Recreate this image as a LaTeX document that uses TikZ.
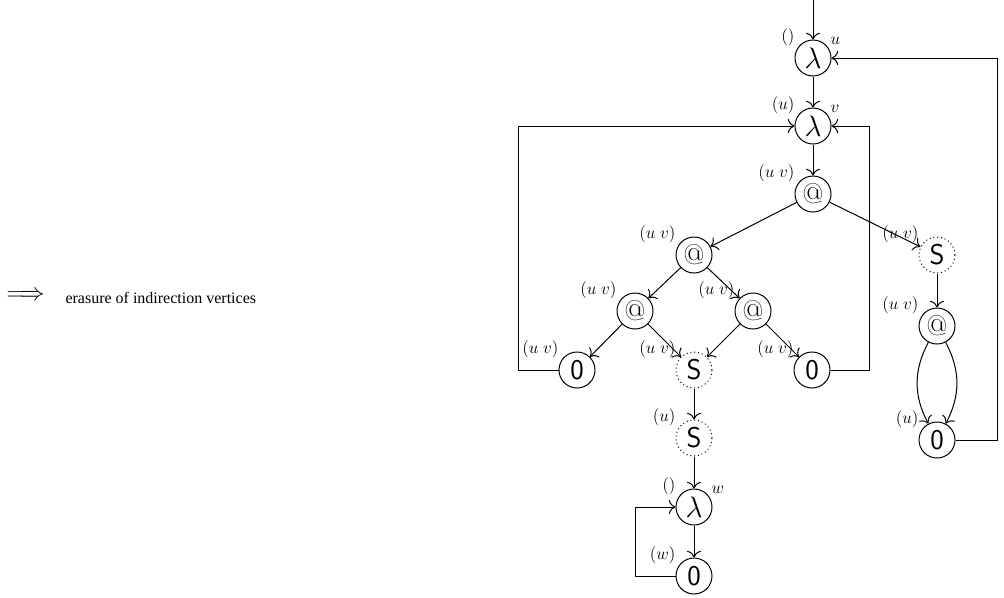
\documentclass[tikz,border=0pt]{standalone}
\usetikzlibrary{arrows.meta}
\usepackage{fontspec}
\newfontfamily\timesfont{Liberation Serif}
\begin{document}
\begin{tikzpicture}[x=0.7pt,y=-0.7pt,
  every path/.style={line width=0.7pt},
  vtx/.style={circle,draw,line width=0.7pt,minimum size=25.2pt,inner sep=0pt,font=\sffamily\fontsize{20}{22}\selectfont},
  ind/.style={vtx,dotted},
  lbl/.style={font=\fontsize{12.5}{14}\selectfont,inner sep=1.4pt,draw=none,solid},
  lL/.style={label={[lbl,anchor=south east]150:$#1$}},
  lR/.style={label={[lbl,anchor=south west]35:$#1$}},
  >={To[scale=1.5]}]
\useasboundingbox (0,0) rectangle (1004,597);
% left text
\node[anchor=west,inner sep=0pt,font=\fontsize{16}{18}\selectfont] (arr) at (6,296) {$\Longrightarrow$};
\node[anchor=west,inner sep=0pt,font=\timesfont\fontsize{11.2}{13}\selectfont] (txt) at (65,298) {erasure of indirection vertices};
% graph
\coordinate (in) at (813,0);
\node[vtx,lL={()},lR={u}] (lu) at (813,58) {$\lambda$};
\node[vtx,lL={(u)},lR={v}] (lv) at (813,126) {$\lambda$};
\node[vtx,lL={(u\;v)}] (at) at (813,194) {\rmfamily @};
\node[vtx,lL={(u\;v)}] (al) at (694,255) {\rmfamily @};
\node[vtx,lL={(u\;v)}] (all) at (635,311) {\rmfamily @};
\node[vtx,lL={(u\;v)}] (alr) at (753,311) {\rmfamily @};
\node[vtx,lL={(u\;v)}] (zl) at (577,370) {0};
\node[ind,lL={(u\;v)}] (sm) at (694,370) {S};
\node[vtx,lL={(u\;v)}] (zr) at (812,370) {0};
\node[ind,lL={(u)}] (su) at (694,438) {S};
\node[vtx,lL={()},lR={w}] (lw) at (694,507) {$\lambda$};
\node[vtx,lL={(w)}] (zw) at (694,576) {0};
\node[ind,lL={(u\;v)}] (sr) at (937,255) {S};
\node[vtx,lL={(u\;v)}] (ar) at (937,326) {\rmfamily @};
\node[vtx,lL={(u)}] (zrr) at (937,440) {0};
% edges
\draw[->] (in) -- (lu);
\draw[->] (lu) -- (lv);
\draw[->] (lv) -- (at);
\draw[->] (at) -- (al);
\draw[->] (at) -- (sr);
\draw[->] (al) -- (all);
\draw[->] (al) -- (alr);
\draw[->] (all) -- (zl);
\draw[->] (all) -- (sm);
\draw[->] (alr) -- (sm);
\draw[->] (alr) -- (zr);
\draw[->] (sm) -- (su);
\draw[->] (su) -- (lw);
\draw[->] (lw) -- (zw);
\draw[->] (sr) -- (ar);
\draw[->] (ar) to[bend right=28] (zrr);
\draw[->] (ar) to[bend left=28] (zrr);
\draw[->] (zl.west) -- ++(-40,0) |- (lv);
\draw[->] (zr.east) -- ++(39,0) |- (lv);
\draw[->] (zrr.east) -- ++(42,0) |- (lu);
\draw[->] (zw.west) -- ++(-40,0) |- (lw);
\end{tikzpicture}
\end{document}
